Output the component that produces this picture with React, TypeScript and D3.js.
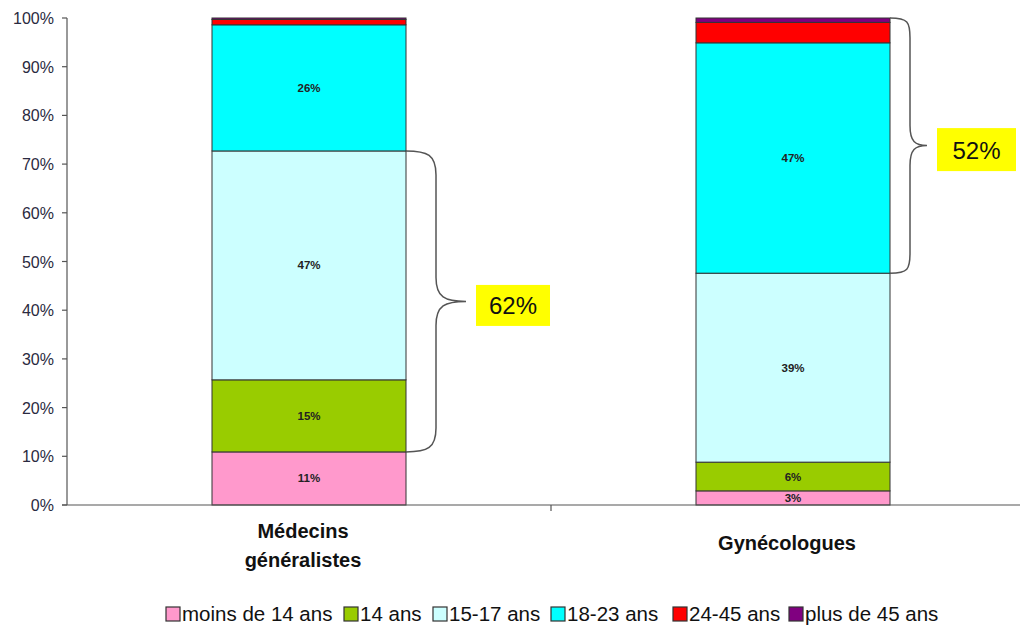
import React from "react";
import * as d3 from "d3";

const categories = ["Médecins généralistes", "Gynécologues"];
const categoryLines = [["Médecins", "généralistes"], ["Gynécologues"]];
const seriesNames = ["moins de 14 ans", "14 ans", "15-17 ans", "18-23 ans", "24-45 ans", "plus de 45 ans"];
const seriesColors = ["#FF99CC", "#99CC00", "#CCFFFF", "#00FFFF", "#FF0000", "#800080"];
const medecins = [10.9, 14.8, 47.0, 25.9, 1.1, 0.3];
const gyneco = [2.9, 5.9, 38.8, 47.3, 4.2, 0.9];
const barLabels = [["11%", "15%", "47%", "26%", "", ""], ["3%", "6%", "39%", "47%", "", ""]];
const yTicks = [0, 10, 20, 30, 40, 50, 60, 70, 80, 90, 100];
// brace groups: [category index, from series, to series (inclusive), label]
const braces: [number, number, number, string][] = [
  [0, 1, 2, "62%"],
  [1, 3, 5, "52%"],
];

const W = 1020, H = 625;
const left = 67, top = 18, bottom = 505;

export default function App() {
  const values = [medecins, gyneco];
  const y = d3.scaleLinear().domain([0, 100]).range([bottom, top]);
  const x = d3.scaleBand().domain(categories).range([left, left + 968]).paddingInner(0).paddingOuter(0);
  const barW = 194;
  const fontFam = "Arial, 'Liberation Sans', sans-serif";

  const stacks = values.map((vals) => {
    let acc = 0;
    return vals.map((v) => {
      const s = acc;
      acc += v;
      return [s, acc];
    });
  });

  const bracePath = (x0: number, yTop: number, yBot: number, w: number, tipW: number) => {
    const xm = x0 + w;
    const ym = (yTop + yBot) / 2;
    const r = Math.min(w, 24);
    return [
      `M${x0},${yTop}`,
      `C${x0 + r * 0.9},${yTop} ${xm},${yTop + 4} ${xm},${yTop + r}`,
      `L${xm},${ym - r}`,
      `C${xm},${ym - 4} ${xm + tipW * 0.3},${ym} ${xm + tipW},${ym}`,
      `C${xm + tipW * 0.3},${ym} ${xm},${ym + 4} ${xm},${ym + r}`,
      `L${xm},${yBot - r}`,
      `C${xm},${yBot - 4} ${x0 + r * 0.9},${yBot} ${x0},${yBot}`,
    ].join(" ");
  };

  const legendItems = seriesNames.map((n, i) => ({ n, c: seriesColors[i] }));
  const legendPos = [166, 344, 433, 551, 673, 789];

  return (
    <svg width={W} height={H} style={{ position: "absolute", left: 0, top: 0, background: "#fff" }} fontFamily={fontFam}>
      {/* bars */}
      {categories.map((c, ci) => {
        const cx = (x(c) as number) + x.bandwidth() / 2;
        const bx = cx - barW / 2;
        return (
          <g key={c}>
            {stacks[ci].map(([s, e], si) =>
              e - s > 0 ? (
                <rect
                  key={si}
                  x={bx}
                  y={y(e)}
                  width={barW}
                  height={y(s) - y(e)}
                  fill={seriesColors[si]}
                  stroke="#333"
                  strokeWidth={1}
                />
              ) : null
            )}
            {stacks[ci].map(([s, e], si) =>
              barLabels[ci][si] ? (
                <text
                  key={"l" + si}
                  x={cx}
                  y={(y(s) + y(e)) / 2 + 4}
                  textAnchor="middle"
                  fontSize={11.5}
                  fontWeight="bold"
                  fill="#222"
                >
                  {barLabels[ci][si]}
                </text>
              ) : null
            )}
            {categoryLines[ci].map((line, li) => (
              <text
                key={"c" + li}
                x={cx - 6}
                y={categoryLines[ci].length === 1 ? 550 : 538 + li * 29}
                textAnchor="middle"
                fontSize={20}
                fontWeight="bold"
                fill="#111"
              >
                {line}
              </text>
            ))}
          </g>
        );
      })}

      {/* axes */}
      <line x1={left} y1={top} x2={left} y2={bottom} stroke="#555" strokeWidth={1.2} />
      <line x1={left - 5} y1={bottom} x2={W} y2={bottom} stroke="#555" strokeWidth={1.2} />
      {yTicks.map((t) => (
        <g key={t}>
          <line x1={left - 5} y1={y(t)} x2={left} y2={y(t)} stroke="#555" strokeWidth={1.2} />
          <text x={left - 13} y={y(t) + 6} textAnchor="end" fontSize={16} fill="#2a2a40">
            {t}%
          </text>
        </g>
      ))}
      <line
        x1={(x(categories[1]) as number)}
        y1={bottom}
        x2={(x(categories[1]) as number)}
        y2={bottom + 6}
        stroke="#555"
        strokeWidth={1.2}
      />

      {/* braces */}
      {braces.map(([ci, from, to, label], i) => {
        const cx = (x(categories[ci]) as number) + x.bandwidth() / 2;
        const bx = cx + barW / 2;
        const yTop = y(stacks[ci][to][1]);
        const yBot = y(stacks[ci][from][0]);
        const w = ci === 0 ? 30 : 20;
        const tipW = ci === 0 ? 30 : 17;
        const ym = (yTop + yBot) / 2;
        const boxX = bx + w + tipW + 10;
        const boxW = ci === 0 ? 74 : 79;
        const boxH = ci === 0 ? 41 : 43;
        return (
          <g key={i}>
            <path d={bracePath(bx, yTop, yBot, w, tipW)} fill="none" stroke="#555" strokeWidth={1.5} />
            <rect x={boxX} y={ym - boxH / 2 + 4} width={boxW} height={boxH} fill="#FFFF00" />
            <text x={boxX + boxW / 2} y={ym + 13} textAnchor="middle" fontSize={24} fill="#111">
              {label}
            </text>
          </g>
        );
      })}

      {/* legend */}
      {legendItems.map((it, i) => (
        <g key={it.n}>
          <rect x={legendPos[i]} y={607} width={14} height={14} fill={it.c} stroke="#333" strokeWidth={1.2} />
          <text x={legendPos[i] + 16} y={621} fontSize={20.5} fill="#111">
            {it.n}
          </text>
        </g>
      ))}
    </svg>
  );
}
